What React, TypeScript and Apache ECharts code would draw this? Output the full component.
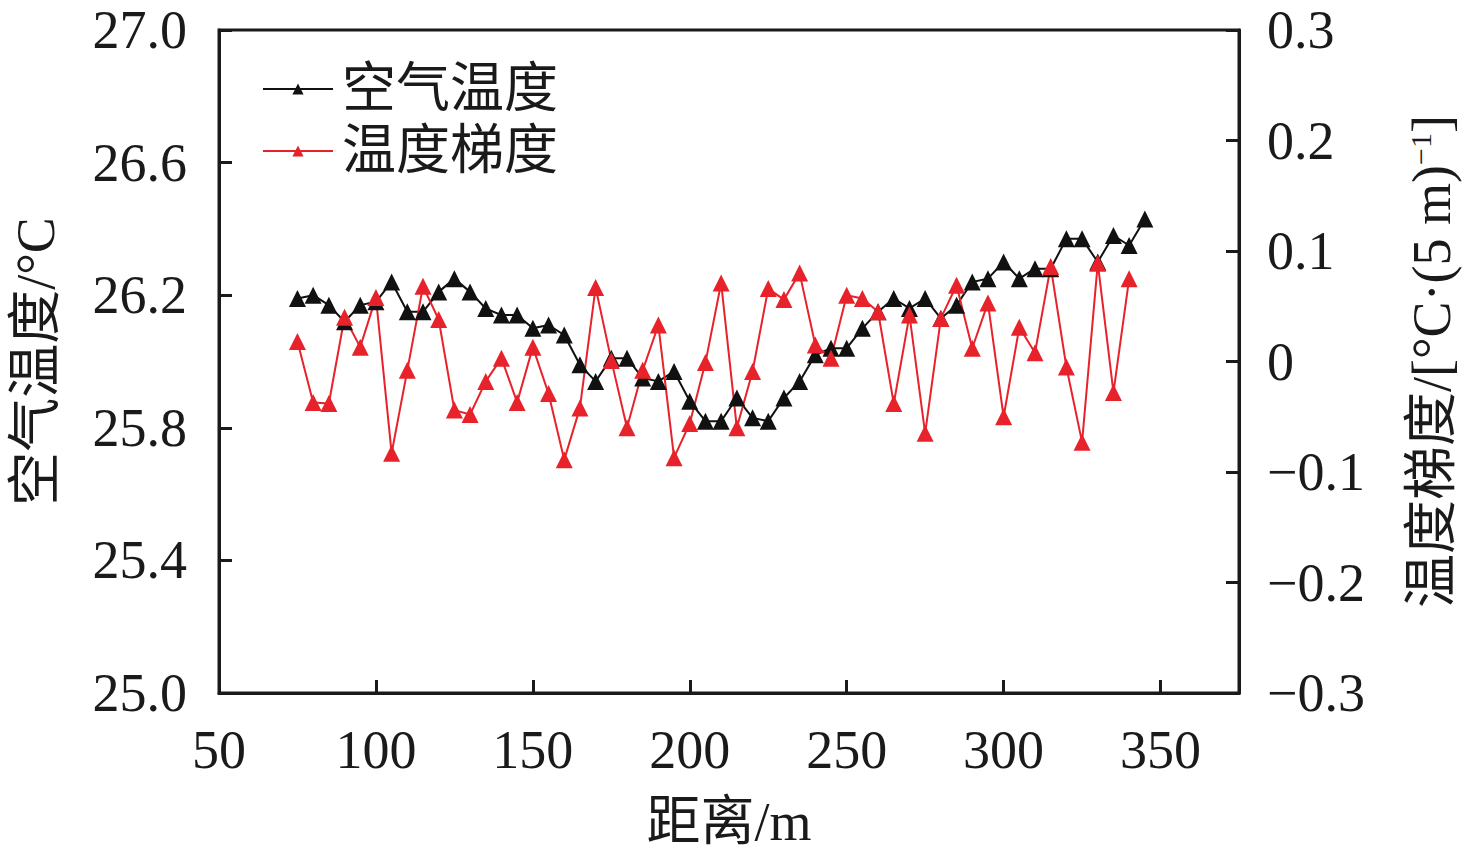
import React, { useEffect, useRef } from "react";
import * as echarts from "echarts";

const distances = [75, 80, 85, 90, 95, 100, 105, 110, 115, 120, 125, 130, 135, 140, 145, 150, 155, 160, 165, 170, 175, 180, 185, 190, 195, 200, 205, 210, 215, 220, 225, 230, 235, 240, 245, 250, 255, 260, 265, 270, 275, 280, 285, 290, 295, 300, 305, 310, 315, 320, 325, 330, 335, 340, 345];

const airTemp = [26.19, 26.2, 26.17, 26.12, 26.17, 26.18, 26.24, 26.15, 26.15, 26.21, 26.25, 26.21, 26.16, 26.14, 26.14, 26.1, 26.11, 26.08, 25.99, 25.94, 26.01, 26.01, 25.95, 25.94, 25.97, 25.88, 25.82, 25.82, 25.89, 25.83, 25.82, 25.89, 25.94, 26.02, 26.04, 26.04, 26.1, 26.15, 26.19, 26.16, 26.19, 26.13, 26.17, 26.24, 26.25, 26.3, 26.25, 26.28, 26.28, 26.37, 26.37, 26.3, 26.38, 26.35, 26.43];

const tempGradient = [0.018, -0.037, -0.038, 0.04, 0.013, 0.058, -0.083, -0.008, 0.068, 0.038, -0.044, -0.048, -0.018, 0.003, -0.037, 0.013, -0.029, -0.089, -0.042, 0.067, 0.001, -0.06, -0.008, 0.033, -0.087, -0.056, -0.001, 0.071, -0.06, -0.009, 0.066, 0.056, 0.08, 0.015, 0.003, 0.06, 0.057, 0.045, -0.038, 0.042, -0.065, 0.039, 0.069, 0.012, 0.053, -0.05, 0.031, 0.008, 0.086, -0.005, -0.073, 0.089, -0.028, 0.075];

const seriesNames = ["空气温度", "温度梯度"];
const xAxisName = "距离/m";
const leftAxisName = "空气温度/°C";

const FONT = '"Liberation Serif", "Noto Sans CJK SC", serif';
const FS = 54;

export default function App() {
  const ref = useRef<HTMLDivElement>(null);
  useEffect(() => {
    if (!ref.current) return;
    const chart = echarts.init(ref.current, null, { renderer: "svg" });
    const minus = (v: number, d: number) => {
      if (Math.abs(v) < 1e-9) return "0";
      const s = v.toFixed(d);
      return s.replace("-", "−");
    };
    const axisLine = { show: true, onZero: false, lineStyle: { color: "#1a1a1a", width: 3 } };
    const axisTick = { show: true, inside: true, length: 13, lineStyle: { color: "#1a1a1a", width: 3 } };
    chart.setOption({
      animation: false,
      backgroundColor: "#fff",
      textStyle: { fontFamily: FONT },
      grid: {
        left: 219,
        right: 237,
        top: 30,
        bottom: 166,
        show: true,
        borderColor: "#1a1a1a",
        borderWidth: 3,
        backgroundColor: "transparent",
      },
      legend: {
        orient: "vertical",
        left: 257,
        top: 57,
        itemWidth: 70,
        itemHeight: 14,
        itemGap: 8,
        data: seriesNames,
        textStyle: { fontFamily: FONT, fontSize: FS, color: "#1a1a1a", padding: [0, 0, 0, 4] },
      },
      xAxis: {
        type: "value",
        min: 50,
        max: 375,
        interval: 50,
        name: xAxisName,
        nameLocation: "middle",
        nameGap: 102,
        nameTextStyle: { fontFamily: FONT, fontSize: FS, color: "#1a1a1a" },
        axisLine,
        axisTick,
        splitLine: { show: false },
        axisLabel: {
          fontFamily: FONT,
          fontSize: FS,
          color: "#1a1a1a",
          margin: 30,
          formatter: (v: number) => (v > 350 ? "" : String(v)),
        },
      },
      yAxis: [
        {
          type: "value",
          min: 25.0,
          max: 27.0,
          interval: 0.4,
          position: "left",
          name: leftAxisName,
          nameLocation: "middle",
          nameRotate: 90,
          nameGap: 156,
          nameTextStyle: { fontFamily: FONT, fontSize: FS, color: "#1a1a1a" },
          axisLine,
          axisTick,
          splitLine: { show: false },
          axisLabel: {
            fontFamily: FONT,
            fontSize: FS,
            color: "#1a1a1a",
            margin: 32,
            formatter: (v: number) => v.toFixed(1),
          },
        },
        {
          type: "value",
          min: -0.3,
          max: 0.3,
          interval: 0.1,
          position: "right",
          name: "{a|温度梯度/[°C·(5 m)}{s|−1}{a|]}",
          nameLocation: "middle",
          nameRotate: 90,
          nameGap: 166,
          nameTextStyle: {
            fontFamily: FONT,
            fontSize: FS,
            color: "#1a1a1a",
            rich: {
              a: { fontFamily: FONT, fontSize: FS, color: "#1a1a1a" },
              s: { fontFamily: FONT, fontSize: 30, color: "#1a1a1a", verticalAlign: "top", lineHeight: 54, padding: [0, 0, 22, 0] },
            },
          },
          axisLine,
          axisTick,
          splitLine: { show: false },
          axisLabel: {
            fontFamily: FONT,
            fontSize: FS,
            color: "#1a1a1a",
            margin: 28,
            formatter: (v: number) => minus(v, 1),
          },
        },
      ],
      series: [
        {
          name: seriesNames[0],
          type: "line",
          yAxisIndex: 0,
          data: distances.map((d, i) => [d, airTemp[i]]),
          symbol: "triangle",
          symbolSize: 17,
          lineStyle: { color: "#111", width: 2 },
          itemStyle: { color: "#111" },
        },
        {
          name: seriesNames[1],
          type: "line",
          yAxisIndex: 1,
          data: tempGradient.map((g, i) => [distances[i], g]),
          symbol: "triangle",
          symbolSize: 17,
          lineStyle: { color: "#e8222b", width: 2 },
          itemStyle: { color: "#e8222b" },
        },
      ],
    });
    return () => chart.dispose();
  }, []);
  return <div ref={ref} style={{ position: "fixed", left: 0, top: 0, width: 1476, height: 859 }} />;
}
